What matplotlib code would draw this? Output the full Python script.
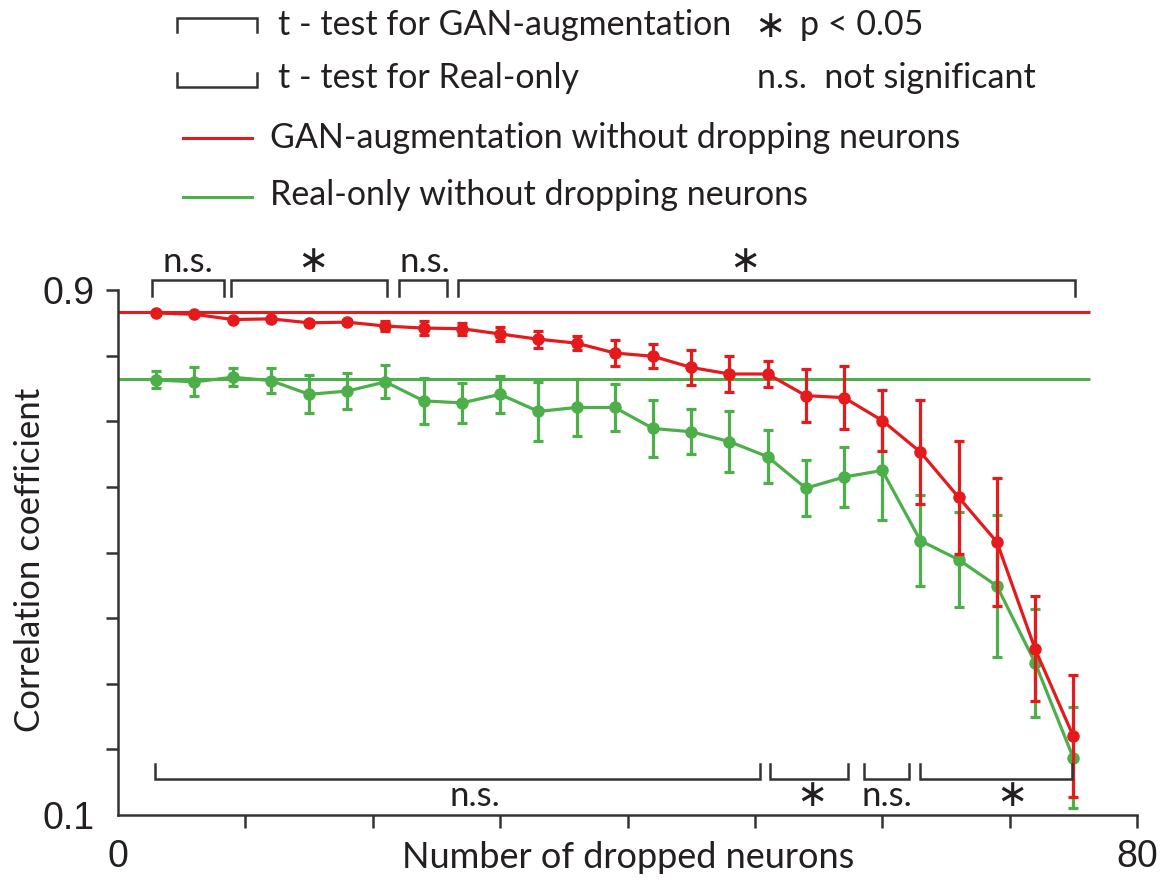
import numpy as np
import matplotlib.pyplot as plt

# number of dropped neurons
n_dropped = [3, 6, 9, 12, 15, 18, 21, 24, 27, 30, 33, 36, 39,
             42, 45, 48, 51, 54, 57, 60, 63, 66, 69, 72, 75]

# GAN-augmentation (red)
gan_mean = [0.865, 0.863, 0.855, 0.856, 0.850, 0.851, 0.845, 0.842, 0.841,
            0.833, 0.825, 0.819, 0.804, 0.799, 0.782, 0.772, 0.772, 0.739,
            0.736, 0.701, 0.653, 0.584, 0.516, 0.353, 0.220]
gan_err = [0.002, 0.002, 0.003, 0.003, 0.003, 0.003, 0.008, 0.011, 0.009,
           0.010, 0.013, 0.011, 0.020, 0.018, 0.026, 0.027, 0.020, 0.040,
           0.048, 0.046, 0.079, 0.086, 0.098, 0.080, 0.093]

# Real-only (green)
real_mean = [0.763, 0.760, 0.767, 0.762, 0.741, 0.746, 0.760, 0.731, 0.728,
             0.741, 0.715, 0.721, 0.721, 0.689, 0.684, 0.669, 0.646, 0.598,
             0.615, 0.625, 0.518, 0.489, 0.449, 0.332, 0.187]
real_err = [0.013, 0.022, 0.014, 0.019, 0.029, 0.028, 0.025, 0.035, 0.031,
            0.028, 0.045, 0.043, 0.036, 0.043, 0.034, 0.046, 0.040, 0.043,
            0.046, 0.076, 0.069, 0.072, 0.108, 0.082, 0.077]

# baselines without dropping neurons
gan_base = 0.866
real_base = 0.764

# t-test brackets: (start, end, label, label x)
gan_tests = [(2.7, 8.3, "n.s.", 5.5), (8.9, 21.1, "*", 15.3),
             (22.1, 25.8, "n.s.", 24.1), (26.7, 75.1, "*", 49.2)]
real_tests = [(2.9, 50.4, "n.s.", 28.0), (51.2, 57.3, "*", 54.5),
              (58.6, 62.1, "n.s.", 60.4), (63.0, 74.9, "*", 70.2)]

RED = "#e41a1c"
GREEN = "#4daf4a"
DARK = "#333333"
INK = "#231f20"

plt.rcParams["font.family"] = ["Lato", "DejaVu Sans"]

fig = plt.figure(figsize=(11.73, 8.82), dpi=100)
ax = fig.add_axes([118 / 1173, 1 - 815 / 882, 1019 / 1173, 525 / 882])
ax.set_xlim(0, 80)
ax.set_ylim(0.1, 0.9)

ax.hlines(gan_base, 0, 76.3, color=RED, lw=2.2, zorder=2)
ax.hlines(real_base, 0, 76.3, color=GREEN, lw=2.2, zorder=2)

ax.errorbar(n_dropped, real_mean, yerr=real_err, color=GREEN, lw=2.3, marker="o",
            ms=8, capsize=3.5, capthick=2.3, elinewidth=2.3, zorder=3, clip_on=False)
ax.errorbar(n_dropped, gan_mean, yerr=gan_err, color=RED, lw=2.3, marker="o",
            ms=8, capsize=3.5, capthick=2.3, elinewidth=2.3, zorder=4, clip_on=False)


def bracket(x0, x1, y, h, label, lx, ly):
    ax.plot([x0, x0, x1, x1], [y - h, y, y, y - h], color=DARK, lw=1.8,
            clip_on=False, solid_joinstyle="miter", zorder=5)
    if label == "*":
        ax.text(lx, ly, "\u2217", fontsize=27, ha="center", va="center",
                family="DejaVu Sans", color=INK, clip_on=False)
    else:
        ax.text(lx, ly, label, fontsize=25, ha="center", va="center",
                color=INK, clip_on=False)


for x0, x1, lab, lx in gan_tests:
    bracket(x0, x1, 0.915, 0.024, lab, lx, 0.943)
for x0, x1, lab, lx in real_tests:
    bracket(x0, x1, 0.155, -0.023, lab, lx, 0.129)

# axes styling
for s in ["top", "right"]:
    ax.spines[s].set_visible(False)
for s in ["left", "bottom"]:
    ax.spines[s].set_linewidth(1.8)
    ax.spines[s].set_color(DARK)

ax.set_xticks(np.arange(0, 81, 10))
ax.set_xticklabels(["0"] + [""] * 7 + ["80"])
ax.set_yticks(np.arange(0.1, 0.91, 0.1))
ax.set_yticklabels(["0.1"] + [""] * 7 + ["0.9"])
ax.tick_params(direction="out", length=9, width=1.8, color=DARK,
               labelsize=27, labelcolor=INK)
ax.tick_params(axis="x", pad=8)
ax.tick_params(axis="y", pad=8)
ax.xaxis.get_major_ticks()[0].tick1line.set_visible(False)
ax.yaxis.get_major_ticks()[0].tick1line.set_visible(False)
for lab in ax.get_xticklabels() + ax.get_yticklabels():
    lab.set_family("Liberation Sans")

fig.text(628 / 1173, 1 - 858 / 882, "Number of dropped neurons", fontsize=26,
         ha="center", va="center", color=INK)
fig.text(30 / 1173, 1 - 560 / 882, "Correlation coefficient", fontsize=25,
         ha="center", va="center", rotation=90, color=INK)

# legend, drawn in pixel coordinates
lg = fig.add_axes([0, 0, 1, 1], facecolor="none")
lg.set_xlim(0, 1173)
lg.set_ylim(882, 0)
lg.axis("off")

lg.plot([177, 177, 257, 257], [32, 18, 18, 32], color=DARK, lw=1.8, solid_joinstyle="miter")
lg.plot([177, 177, 257, 257], [73, 87, 87, 73], color=DARK, lw=1.8, solid_joinstyle="miter")
lg.plot([183, 252], [138, 138], color=RED, lw=2.2)
lg.plot([183, 252], [197, 197], color=GREEN, lw=2.2)

leg_fs = 24.5
lg.text(278, 25, "t - test for GAN-augmentation", fontsize=leg_fs, va="center", color=INK)
lg.text(278, 78, "t - test for Real-only", fontsize=leg_fs, va="center", color=INK)
lg.text(270, 138, "GAN-augmentation without dropping neurons", fontsize=leg_fs, va="center", color=INK)
lg.text(270, 195, "Real-only without dropping neurons", fontsize=leg_fs, va="center", color=INK)
lg.text(770, 27, "\u2217", fontsize=27, family="DejaVu Sans", ha="center", va="center", color=INK)
lg.text(800, 25, "p < 0.05", fontsize=leg_fs, va="center", color=INK)
lg.text(757, 78, "n.s.  not significant", fontsize=leg_fs, va="center", color=INK)

fig.savefig("out.png", dpi=100)
